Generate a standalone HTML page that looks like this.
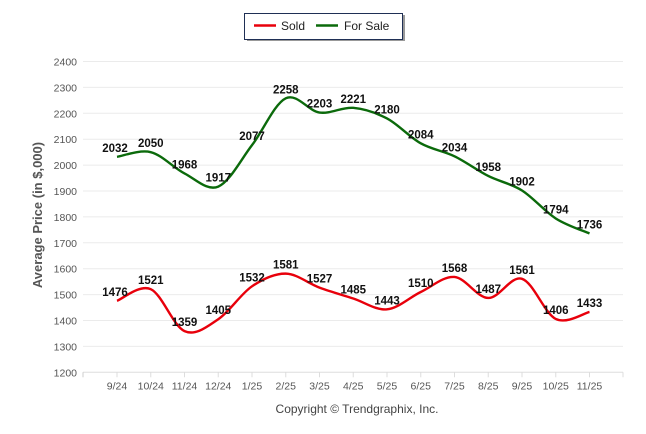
<!DOCTYPE html>
<html><head><meta charset="utf-8"><style>
body{margin:0;background:#fff;font-family:"Liberation Sans",sans-serif}
svg{display:block}
</style></head><body>
<svg id="c" width="646" height="434"></svg>
<script>
const categories=["9/24","10/24","11/24","12/24","1/25","2/25","3/25","4/25","5/25","6/25","7/25","8/25","9/25","10/25","11/25"];
const soldValues=[1476,1521,1359,1405,1532,1581,1527,1485,1443,1510,1568,1487,1561,1406,1433];
const forSaleValues=[2032,2050,1968,1917,2077,2258,2203,2221,2180,2084,2034,1958,1902,1794,1736];
const yTicks=[1200,1300,1400,1500,1600,1700,1800,1900,2000,2100,2200,2300,2400];
const svg=document.getElementById('c');const NS="http://www.w3.org/2000/svg";
function mk(t,a,p){const e=document.createElementNS(NS,t);for(const k in a)e.setAttribute(k,a[k]);(p||svg).appendChild(e);return e;}
const X0=83,X1=623,step=33.75;
const xS=i=>117+step*i;
const yS=v=>61.5+(2400-v)*0.259;
yTicks.forEach(v=>{
 const g=mk('line',{x1:X0,x2:X1,y1:yS(v),y2:yS(v),stroke:v===1200?'#ddd':'#ebebeb','stroke-width':1});
 
 
 const t=mk('text',{x:77,y:yS(v)+4,'text-anchor':'end','font-size':10.5,fill:'#555'});t.textContent=v;
 
 
});
mk('line',{x1:X0,x2:X0,y1:yS(1200),y2:yS(1200)+5,stroke:'#ccc'});
categories.forEach((c,i)=>{
 const tk=mk('line',{x1:xS(i),x2:xS(i),y1:yS(1200),y2:yS(1200)+5,stroke:'#ddd'});
 
 
 const t=mk('text',{x:xS(i),y:yS(1200)+17,'text-anchor':'middle','font-size':10.5,fill:'#555'});t.textContent=c;
 
 
});
mk('line',{x1:X1,x2:X1,y1:yS(1200),y2:yS(1200)+5,stroke:'#ddd'});
function path(vals){
 const p=vals.map((v,i)=>[xS(i),yS(v)]);let d=`M${p[0][0]},${p[0][1]}`;const t=0.5/3*2;
 for(let i=0;i<p.length-1;i++){const a=p[i-1]||p[i],b=p[i],c=p[i+1],e=p[i+2]||c;
  d+=` C${b[0]+(c[0]-a[0])*t/2},${b[1]+(c[1]-a[1])*t/2} ${c[0]-(e[0]-b[0])*t/2},${c[1]-(e[1]-b[1])*t/2} ${c[0]},${c[1]}`;}
 return d;}
function series(vals,color,name){
 const l=mk('path',{d:path(vals),fill:'none',stroke:color,'stroke-width':2.4});
 
 
 vals.forEach((v,i)=>{const t=mk('text',{x:xS(i)+(i===0?-2:0),y:yS(v)-5,'text-anchor':'middle','font-size':11.5,'font-weight':'bold',fill:'#111'});t.textContent=v;
 
 });
}
series(forSaleValues,'#0b6a0b','for-sale');
series(soldValues,'#e8000b','sold');
const at=mk('text',{x:42,y:215,transform:'rotate(-90 42 215)','text-anchor':'middle','font-size':13,'font-weight':'bold',fill:'#555'});at.textContent='Average Price (in $,000)';


const cp=mk('text',{x:357,y:413,'text-anchor':'middle','font-size':12,fill:'#444'});cp.textContent='Copyright © Trendgraphix, Inc.';


const lg=mk('g',{});


mk('rect',{x:247,y:15,width:158,height:26,fill:'#999'},lg);
mk('rect',{x:244.5,y:13.5,width:158,height:26,fill:'#fff',stroke:'#1f2f55'},lg);
mk('line',{x1:254,x2:276,y1:25.5,y2:25.5,stroke:'#e8000b','stroke-width':2.5},lg);
const s1=mk('text',{x:281,y:30,'font-size':12,fill:'#222'},lg);s1.textContent='Sold';


mk('line',{x1:316,x2:338,y1:25.5,y2:25.5,stroke:'#0b6a0b','stroke-width':2.5},lg);
const s2=mk('text',{x:344,y:30,'font-size':12,fill:'#222'},lg);s2.textContent='For Sale';


</script>
</body></html>
